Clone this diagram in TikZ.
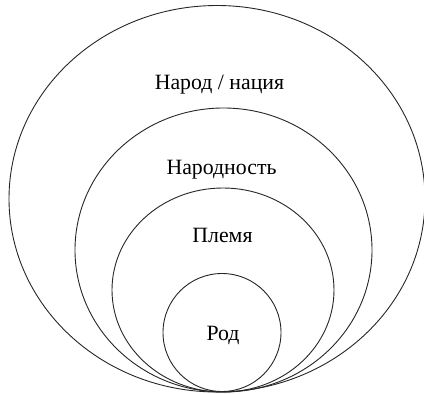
\documentclass[tikz,border=0pt]{standalone}
\usepackage{fontspec}
\setmainfont{Liberation Serif}
\begin{document}
\begin{tikzpicture}[x=1pt,y=-1pt,
  ring/.style={draw=black!85, line width=0.9pt},
  lbl/.style={anchor=base, font=\fontsize{21.8}{24}\selectfont, inner sep=0pt}]
\useasboundingbox (0,0) rectangle (424,394);
\draw[ring] (217,198.75) ellipse [x radius=208pt, y radius=193.25pt];
\draw[ring] (223.5,250) ellipse [x radius=148.5pt, y radius=142pt];
\draw[ring] (223,290) ellipse [x radius=111pt, y radius=102pt];
\draw[ring] (222,332.5) circle [radius=59pt];
\node[lbl] (narod) at (219.5,89) {Народ / нация};
\node[lbl] (narodnost) at (221.5,174) {Народность};
\node[lbl] (plemya) at (222.5,242) {Племя};
\node[lbl] (rod) at (223,340) {Род};
\end{tikzpicture}
\end{document}
